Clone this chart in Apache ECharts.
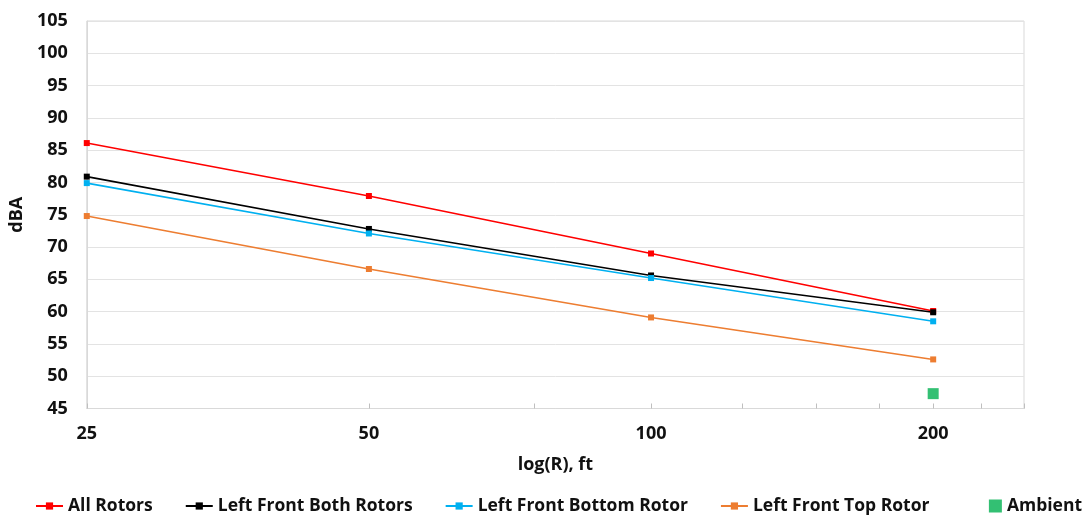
<!DOCTYPE html>
<html>
<head>
<meta charset="utf-8">
<script src="https://cdn.jsdelivr.net/npm/echarts@6/dist/echarts.min.js"></script>
<style>html,body{margin:0;padding:0;background:#fff}#c{width:1087px;height:521px}</style>
</head>
<body>
<div id="c"></div>
<script>
const distances = [25, 50, 100, 200];
const allRotors = [86.1, 77.9, 69.0, 60.1];
const leftFrontBoth = [80.9, 72.8, 65.6, 59.9];
const leftFrontBottom = [79.9, 72.1, 65.2, 58.5];
const leftFrontTop = [74.8, 66.6, 59.1, 52.6];
const ambientX = [200];
const ambientY = [47.3];
const xTickValues = [25, 50, 75, 100, 125, 150, 175, 200, 225, 250];
const xLabelValues = [25, 50, 100, 200];
const seriesNames = ['All Rotors', 'Left Front Both Rotors', 'Left Front Bottom Rotor', 'Left Front Top Rotor', 'Ambient'];

const pair = (xs, ys) => xs.map((x, i) => [x, ys[i]]);
const FONT = 'Open Sans';
const TXT = { fontFamily: FONT, fontWeight: 'bold', fontSize: 18, color: '#111' };
const LTXT = { fontFamily: FONT, fontWeight: 'bold', fontSize: 17.5, color: '#111' };
const lineSeries = (name, ys, color) => ({
  name, type: 'line', data: pair(distances, ys),
  symbol: 'rect', symbolSize: 6,
  itemStyle: { color },
  lineStyle: { color, width: 1.6 },
  emphasis: { disabled: true }
});

const chart = echarts.init(document.getElementById('c'), null, { renderer: 'canvas' });
chart.setOption({
  animation: false,
  backgroundColor: '#fff',
  textStyle: { fontFamily: FONT },
  grid: { left: 86, right: 63, top: 21, bottom: 112.5, show: true, borderColor: '#d9d9d9', borderWidth: 1 },
  xAxis: {
    type: 'log', logBase: 2, min: 25, max: 250,
    name: 'log(R), ft', nameLocation: 'middle', nameGap: 47,
    nameTextStyle: TXT,
    axisLine: { show: true, lineStyle: { color: '#d9d9d9', width: 1 } },
    axisTick: { show: true, inside: true, length: 5, lineStyle: { color: '#bfbfbf' }, customValues: xTickValues },
    axisLabel: Object.assign({ margin: 16, customValues: xLabelValues }, TXT),
    splitLine: { show: false },
    minorTick: { show: false }, minorSplitLine: { show: false }
  },
  yAxis: {
    type: 'value', min: 45, max: 105, interval: 5,
    name: 'dBA', nameLocation: 'middle', nameGap: 60, nameRotate: 90,
    nameTextStyle: TXT,
    axisLine: { show: true, lineStyle: { color: '#d9d9d9', width: 1 } },
    axisTick: { show: false },
    axisLabel: Object.assign({ margin: 19 }, TXT),
    splitLine: { show: true, lineStyle: { color: '#e3e3e3', width: 1 } }
  },
  legend: [{
    data: seriesNames.slice(0, 4),
    bottom: 6, left: 35, padding: 0,
    itemWidth: 27, itemHeight: 9, itemGap: 32,
    textStyle: LTXT,
    selectedMode: false
  }, {
    data: [{ name: seriesNames[4], icon: 'rect' }],
    bottom: 6, right: 5, padding: 0,
    itemWidth: 13, itemHeight: 13,
    textStyle: LTXT,
    selectedMode: false
  }],
  series: [
    lineSeries(seriesNames[0], allRotors, '#ff0000'),
    lineSeries(seriesNames[1], leftFrontBoth, '#000000'),
    lineSeries(seriesNames[2], leftFrontBottom, '#00b0f0'),
    lineSeries(seriesNames[3], leftFrontTop, '#ed7d31'),
    {
      name: seriesNames[4], type: 'scatter', data: pair(ambientX, ambientY),
      symbol: 'rect', symbolSize: 11, itemStyle: { color: '#00b050' },
      emphasis: { disabled: true }
    }
  ]
});
</script>
</body>
</html>
